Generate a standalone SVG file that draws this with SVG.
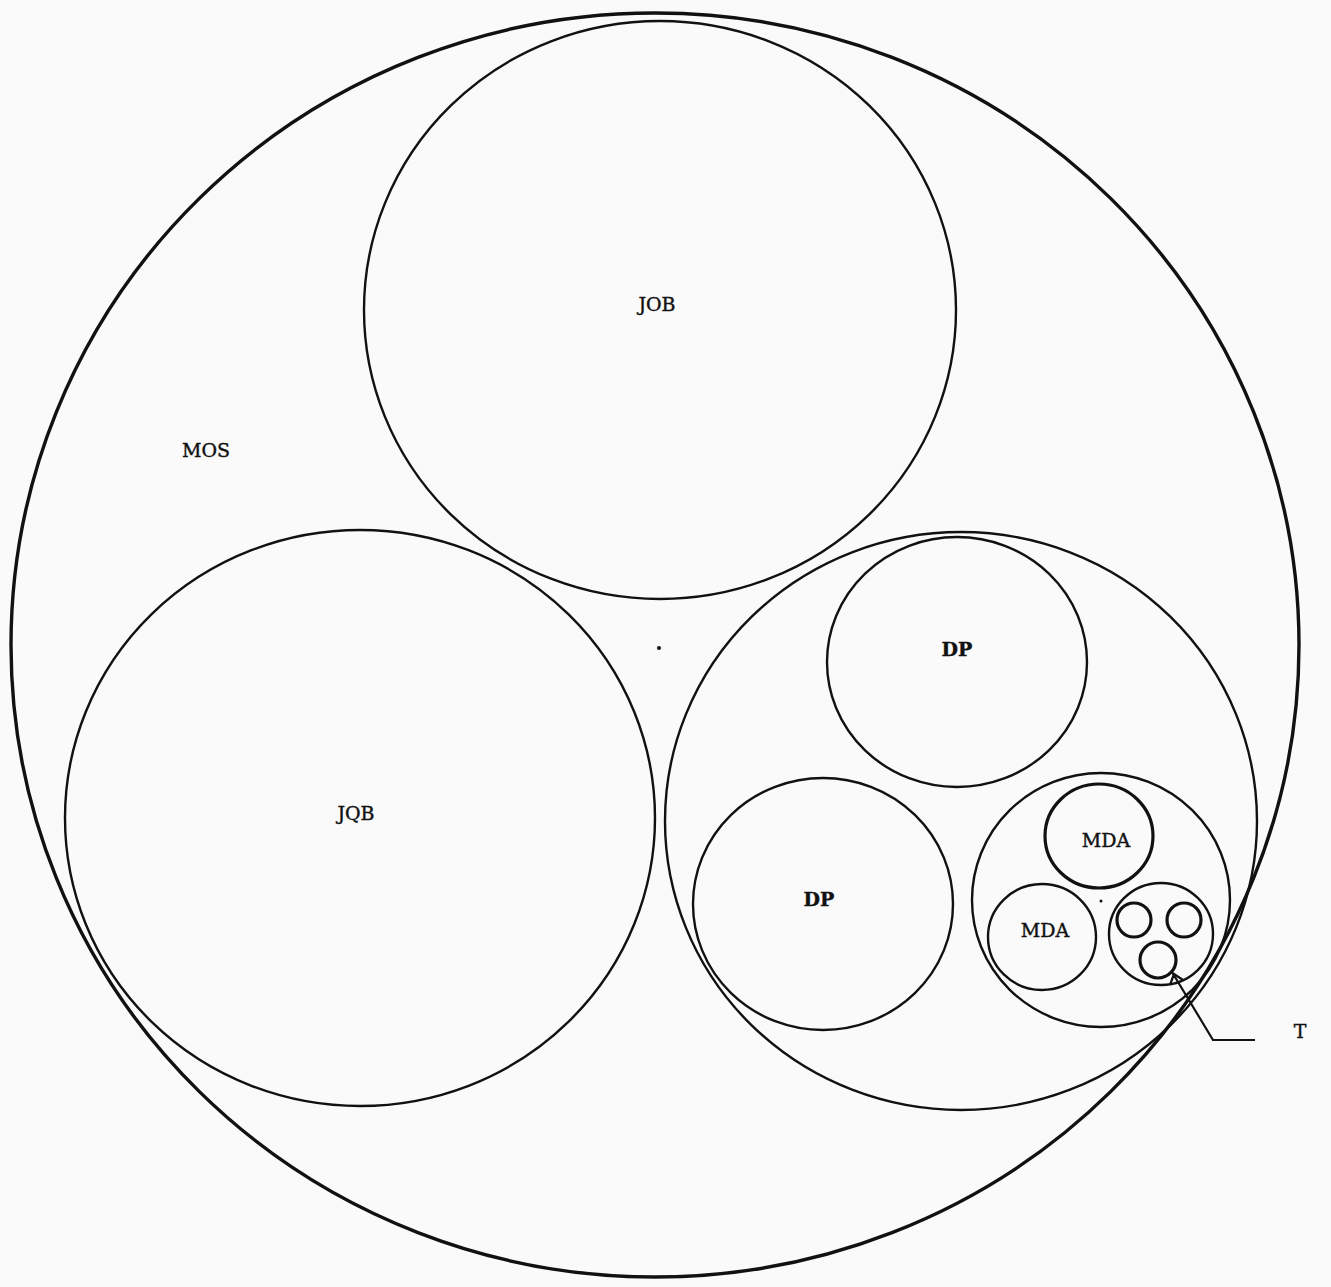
<svg xmlns="http://www.w3.org/2000/svg" width="1331" height="1287" viewBox="0 0 1331 1287">
<style>
.c{fill:none;stroke:#111;stroke-width:2.4}
.o{fill:none;stroke:#111;stroke-width:3.4}
.s{fill:none;stroke:#111;stroke-width:3.2}
.t{font-family:"DejaVu Serif","Liberation Serif",serif;font-size:19px;fill:#111;text-anchor:middle;stroke:#111;stroke-width:0.4}
.b{font-weight:bold}
.l{fill:none;stroke:#111;stroke-width:2.2}
</style>
<rect width="1331" height="1287" fill="#fafafa"/>
<g id="mos">
<ellipse class="o" cx="655" cy="645" rx="644" ry="632"/>
<text class="t" x="206" y="457">MOS</text>
<circle cx="659" cy="648" r="2" fill="#111"/>
</g>
<g id="job-top">
<ellipse class="c" cx="660" cy="310" rx="296" ry="289"/>
<text class="t" x="657" y="311">JOB</text>
</g>
<g id="job-left">
<ellipse class="c" cx="360" cy="818" rx="295" ry="288"/>
<text class="t" x="356" y="820">JQB</text>
</g>
<g id="group-right">
<ellipse class="c" cx="961" cy="821" rx="296" ry="289"/>
</g>
<g id="dp-top">
<ellipse class="c" cx="957" cy="662" rx="130" ry="125"/>
<text class="t b" x="957" y="656">DP</text>
</g>
<g id="dp-bottom">
<ellipse class="c" cx="823" cy="904" rx="130" ry="126"/>
<text class="t b" x="819" y="906">DP</text>
</g>
<g id="mda-group">
<ellipse class="c" cx="1101" cy="900" rx="129" ry="127"/>
<circle cx="1101" cy="901" r="1.5" fill="#111"/>
</g>
<g id="mda-top">
<ellipse class="s" cx="1099" cy="836" rx="54" ry="52"/>
<text class="t" x="1106" y="847">MDA</text>
</g>
<g id="mda-left">
<ellipse class="c" cx="1042" cy="937" rx="54" ry="53"/>
<text class="t" x="1045" y="937">MDA</text>
</g>
<g id="t-group">
<ellipse class="c" cx="1161" cy="934" rx="52" ry="51"/>
<circle class="s" cx="1134" cy="920" r="17"/>
<circle class="s" cx="1184" cy="920" r="17"/>
<circle class="s" cx="1158" cy="960" r="18"/>
</g>
<g id="connectors">
<polyline class="l" points="1172,972 1213,1040 1255,1040"/>
<polyline class="l" points="1170,985 1174,974 1183,980"/>
</g>
<g id="label-t">
<text class="t" x="1300" y="1038">T</text>
</g>
</svg>
